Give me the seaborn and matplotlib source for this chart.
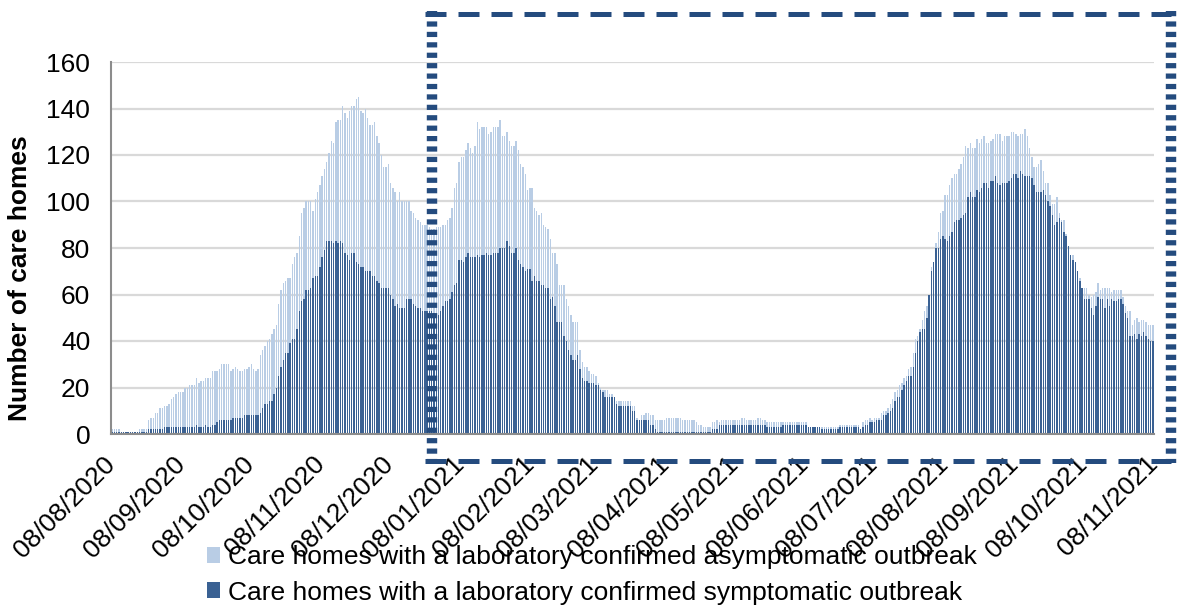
import matplotlib.pyplot as plt
import numpy as np
import pandas as pd
import seaborn as sns
from matplotlib.lines import Line2D
from matplotlib.patches import Patch

# %% daily values, starting 08/08/2020
start = pd.Timestamp("2020-08-08")

# care homes with any laboratory confirmed outbreak (top of the stacked bar)
total = [
    2, 2, 2, 2, 1, 1, 1, 1, 1, 1,
    1, 1, 2, 2, 2, 2, 6, 7, 7, 9,
    9, 11, 11, 12, 12, 13, 15, 16, 17, 18,
    18, 18, 20, 20, 21, 21, 21, 24, 22, 23,
    23, 24, 24, 24, 27, 27, 27, 28, 30, 30,
    30, 30, 27, 28, 29, 28, 27, 27, 28, 28,
    29, 30, 28, 27, 28, 34, 36, 38, 40, 41,
    43, 45, 47, 56, 62, 65, 66, 67, 67, 73,
    76, 78, 85, 95, 97, 100, 100, 100, 96, 101,
    104, 107, 111, 114, 117, 121, 126, 125, 134, 135,
    135, 141, 138, 136, 139, 141, 141, 144, 145, 139,
    138, 140, 136, 133, 133, 134, 128, 125, 120, 115,
    115, 116, 108, 106, 104, 100, 104, 100, 100, 100,
    100, 96, 95, 93, 92, 91, 90, 90, 90, 89,
    88, 88, 89, 89, 89, 90, 90, 92, 93, 97,
    106, 108, 117, 119, 119, 122, 125, 123, 121, 124,
    134, 131, 132, 132, 132, 129, 130, 132, 132, 132,
    135, 128, 128, 130, 126, 124, 124, 126, 122, 116,
    115, 112, 105, 106, 106, 97, 96, 94, 95, 90,
    89, 88, 84, 78, 78, 73, 64, 64, 64, 58,
    55, 51, 48, 48, 48, 36, 31, 29, 29, 27,
    26, 26, 25, 22, 20, 19, 19, 19, 17, 17,
    14, 14, 14, 14, 14, 14, 14, 14, 12, 12,
    7, 6, 8, 8, 9, 9, 8, 8, 6, 6,
    6, 6, 6, 7, 7, 7, 7, 7, 7, 7,
    6, 6, 6, 6, 6, 6, 5, 4, 4, 3,
    3, 3, 3, 5, 5, 6, 5, 6, 6, 6,
    6, 6, 6, 6, 6, 6, 7, 7, 6, 6,
    6, 6, 6, 7, 7, 6, 6, 5, 5, 5,
    5, 5, 5, 5, 5, 5, 5, 5, 5, 5,
    5, 5, 5, 5, 5, 3, 3, 3, 3, 3,
    3, 3, 3, 3, 3, 3, 3, 3, 3, 4,
    4, 4, 4, 4, 4, 4, 4, 4, 2, 5,
    6, 6, 7, 6, 7, 7, 7, 9, 10, 10,
    11, 13, 15, 18, 19, 21, 22, 24, 25, 28,
    29, 35, 41, 42, 45, 49, 53, 55, 60, 72,
    74, 82, 87, 95, 96, 103, 103, 107, 110, 112,
    112, 114, 116, 119, 124, 123, 125, 123, 123, 127,
    125, 127, 128, 125, 125, 126, 127, 129, 129, 129,
    126, 128, 128, 128, 130, 130, 129, 128, 129, 129,
    131, 128, 123, 119, 115, 115, 116, 118, 113, 108,
    108, 103, 99, 99, 102, 95, 92, 92, 86, 81,
    77, 77, 74, 70, 67, 63, 63, 63, 60, 59,
    60, 61, 65, 62, 63, 63, 63, 63, 61, 62,
    62, 62, 62, 59, 55, 53, 53, 47, 49, 50,
    48, 49, 49, 48, 47, 47, 47,
]

# care homes with a laboratory confirmed symptomatic outbreak
symptomatic = [
    1, 1, 1, 1, 1, 1, 1, 1, 1, 1,
    1, 1, 1, 1, 1, 1, 2, 2, 2, 2,
    2, 2, 2, 3, 3, 3, 3, 3, 3, 3,
    3, 3, 3, 3, 3, 3, 3, 4, 3, 3,
    3, 4, 3, 3, 4, 4, 5, 6, 6, 6,
    6, 6, 6, 7, 7, 7, 7, 7, 8, 8,
    8, 8, 8, 8, 8, 9, 11, 13, 13, 14,
    14, 17, 20, 25, 29, 32, 35, 35, 39, 41,
    41, 45, 53, 57, 58, 62, 62, 63, 67, 68,
    68, 72, 76, 79, 83, 83, 83, 82, 83, 82,
    83, 82, 78, 77, 75, 78, 78, 74, 73, 72,
    72, 70, 70, 70, 68, 68, 66, 65, 63, 63,
    63, 63, 60, 58, 55, 56, 54, 54, 54, 58,
    58, 58, 56, 55, 54, 54, 53, 53, 53, 53,
    53, 52, 51, 51, 53, 55, 57, 57, 58, 61,
    64, 65, 75, 75, 74, 76, 78, 76, 76, 76,
    77, 76, 77, 77, 78, 77, 77, 78, 78, 78,
    80, 80, 80, 83, 81, 78, 78, 80, 75, 73,
    72, 70, 71, 71, 66, 68, 66, 66, 64, 64,
    63, 63, 58, 59, 55, 48, 48, 48, 42, 40,
    36, 34, 32, 32, 34, 28, 24, 23, 23, 22,
    22, 22, 21, 21, 19, 18, 16, 16, 16, 16,
    16, 13, 12, 12, 12, 12, 12, 12, 10, 10,
    6, 6, 6, 6, 6, 6, 4, 4, 2, 1,
    1, 1, 1, 1, 1, 1, 1, 1, 1, 1,
    1, 1, 1, 1, 1, 1, 1, 1, 1, 1,
    1, 1, 1, 2, 2, 2, 4, 4, 4, 4,
    4, 4, 4, 4, 4, 4, 4, 4, 4, 4,
    4, 4, 4, 4, 4, 4, 4, 3, 3, 3,
    3, 3, 3, 3, 4, 4, 4, 4, 4, 4,
    4, 4, 4, 4, 4, 3, 3, 3, 3, 3,
    3, 2, 2, 2, 2, 2, 2, 2, 2, 3,
    3, 3, 3, 3, 3, 3, 3, 3, 2, 3,
    4, 4, 5, 5, 5, 6, 6, 6, 8, 8,
    9, 10, 11, 14, 16, 16, 19, 21, 23, 25,
    25, 29, 35, 40, 44, 45, 45, 50, 60, 70,
    74, 80, 80, 84, 85, 84, 83, 85, 87, 91,
    92, 92, 93, 94, 95, 102, 104, 102, 102, 105,
    104, 106, 108, 108, 106, 109, 109, 111, 108, 107,
    108, 108, 108, 109, 110, 112, 112, 110, 113, 112,
    111, 111, 111, 110, 107, 104, 104, 104, 105, 103,
    100, 98, 94, 90, 91, 93, 91, 87, 85, 81,
    77, 75, 74, 70, 66, 63, 58, 58, 58, 54,
    51, 55, 59, 58, 58, 54, 58, 55, 58, 57,
    57, 58, 58, 56, 52, 50, 42, 42, 43, 41,
    43, 42, 44, 42, 41, 40, 40,
]

tick_labels = [
    "08/08/2020", "08/09/2020", "08/10/2020", "08/11/2020", "08/12/2020",
    "08/01/2021", "08/02/2021", "08/03/2021", "08/04/2021", "08/05/2021",
    "08/06/2021", "08/07/2021", "08/08/2021", "08/09/2021", "08/10/2021",
    "08/11/2021",
]

label_asym = "Care homes with a laboratory confirmed asymptomatic outbreak"
label_sym = "Care homes with a laboratory confirmed symptomatic outbreak"

light = "#B9CDE5"
dark = "#3A6193"
navy = "#244B7E"

# %%
df = pd.DataFrame({"day": np.arange(len(total)) + 0.5,
                   "total": total, "symptomatic": symptomatic})
tick_pos = [(pd.to_datetime(t, format="%d/%m/%Y") - start).days for t in tick_labels]

sns.set_style("white")
plt.rcParams["font.family"] = ["Liberation Sans", "DejaVu Sans"]
plt.rcParams["text.color"] = "black"

fig = plt.figure(figsize=(11.78, 6.10), dpi=100)
ax = fig.add_axes([111 / 1178, 1 - 434 / 610, (1154 - 111) / 1178, (434 - 62) / 610])

# asymptomatic sits on top of symptomatic, so the light bar reaches the total
sns.barplot(data=df, x="day", y="total", native_scale=True, color=light,
            saturation=1, width=0.62, errorbar=None, linewidth=0,
            edgecolor="none", ax=ax)
sns.barplot(data=df, x="day", y="symptomatic", native_scale=True, color=dark,
            saturation=1, width=0.62, errorbar=None, linewidth=0,
            edgecolor="none", ax=ax)

ax.set_xlim(0, tick_pos[-1])
ax.set_ylim(0, 160)
ax.set_yticks(range(0, 161, 20))
ax.set_xticks(tick_pos)
ax.set_xticklabels(tick_labels, rotation=45, ha="right", va="center",
                   rotation_mode="anchor")
ax.set_xlabel("")
ax.set_ylabel("Number of care homes", fontsize=19, fontweight="bold", color="black")
ax.yaxis.set_label_coords(-0.076, 0.42)

ax.yaxis.grid(True, color="#D9D9D9", lw=1.6)
ax.set_axisbelow(True)
for side in ["top", "right"]:
    ax.spines[side].set_visible(False)
for side in ["left", "bottom"]:
    ax.spines[side].set_color("#8C8C8C")
    ax.spines[side].set_linewidth(1.5)
ax.tick_params(axis="y", length=6, width=1.5, color="#8C8C8C", pad=9,
               labelsize=19, labelcolor="black")
ax.tick_params(axis="x", length=6, width=1.5, color="#8C8C8C", pad=13,
               labelsize=19, labelcolor="black")

# dashed highlight box
def fig_line(x0, y0, x1, y1, lw, dashes):
    fig.add_artist(Line2D([x0 / 1178, x1 / 1178], [1 - y0 / 610, 1 - y1 / 610],
                          transform=fig.transFigure, color=navy, lw=lw,
                          dashes=dashes, solid_capstyle="butt",
                          dash_capstyle="butt", clip_on=False))

fig_line(425, 13.5, 1171, 13.5, 3.6, (4.2, 2.4))
fig_line(425, 461, 1171, 461, 3.6, (4.2, 2.4))
fig_line(432, 11, 432, 463, 7.5, (0.5, 0.5))
fig_line(1171, 11, 1171, 463, 7.5, (0.5, 0.5))

handles = [Patch(facecolor=light, edgecolor="none"),
           Patch(facecolor=dark, edgecolor="none")]
fig.legend(handles, [label_asym, label_sym], loc="center left",
           bbox_to_anchor=(194 / 1178, 1 - 575 / 610), frameon=False,
           fontsize=19, handlelength=0.5, handleheight=0.55,
           handletextpad=0.3, labelspacing=0.42, borderpad=0)

fig.savefig("out.png", dpi=100)
